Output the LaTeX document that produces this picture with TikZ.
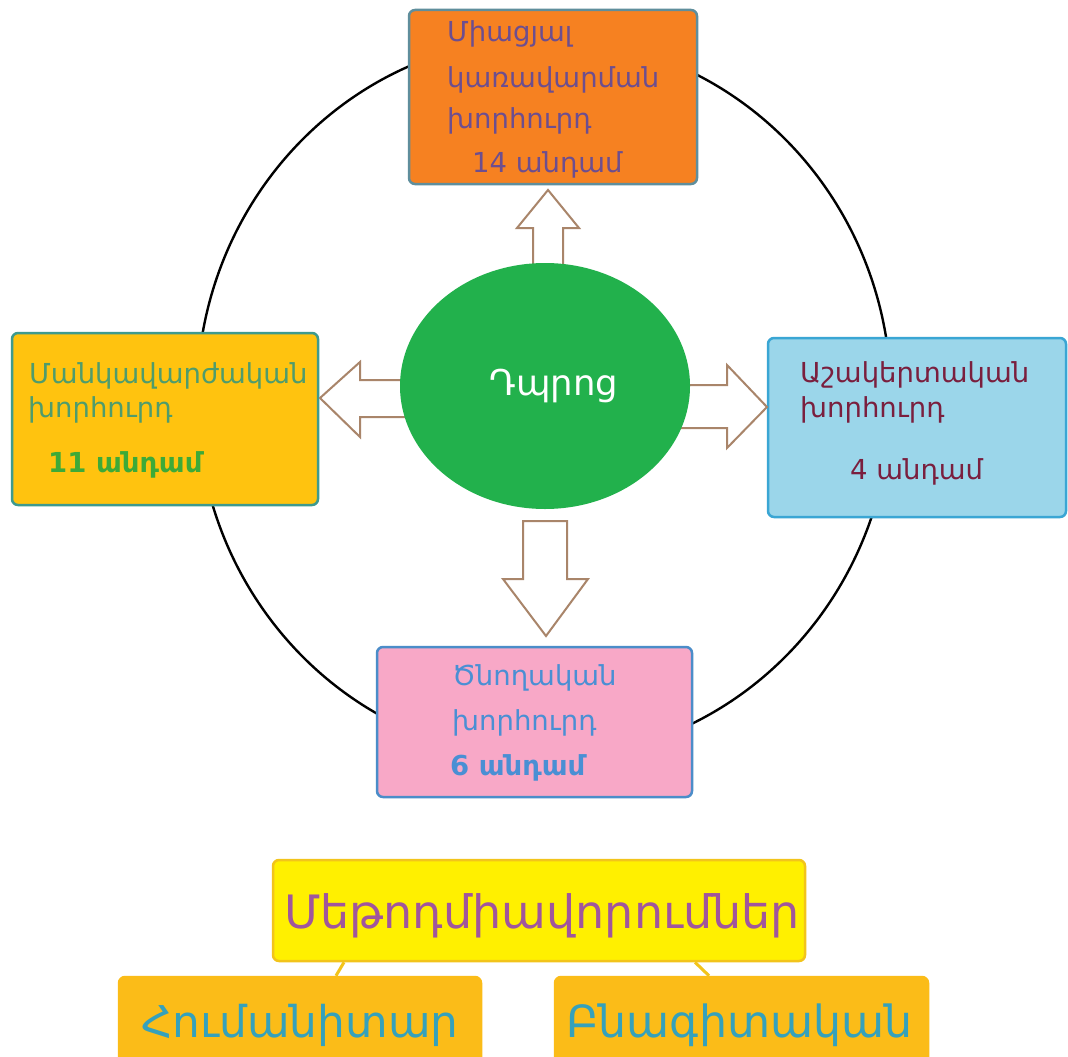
\documentclass[tikz,border=0pt]{standalone}
\usepackage{fontspec}
\setmainfont{DejaVu Sans}
\usetikzlibrary{shapes.geometric,calc}
\definecolor{orangeF}{HTML}{F68121}
\definecolor{orangeB}{HTML}{5F8E9C}
\definecolor{purpleT}{HTML}{6D4E8F}
\definecolor{goldF}{HTML}{FFC30F}
\definecolor{goldB}{HTML}{3E9A8E}
\definecolor{greenT}{HTML}{4F9C6C}
\definecolor{greenB}{HTML}{3DAA38}
\definecolor{blueF}{HTML}{9BD6EA}
\definecolor{blueB}{HTML}{3AA6D4}
\definecolor{maroonT}{HTML}{7A1F3E}
\definecolor{pinkF}{HTML}{F8A8C7}
\definecolor{pinkB}{HTML}{4B8DC9}
\definecolor{pinkT}{HTML}{4A8FD4}
\definecolor{schoolG}{HTML}{22B14C}
\definecolor{arrowB}{HTML}{A9856A}
\definecolor{yellowF}{HTML}{FFF000}
\definecolor{yellowB}{HTML}{F2C41B}
\definecolor{mauveT}{HTML}{A0569C}
\definecolor{subF}{HTML}{FBBC18}
\definecolor{tealT}{HTML}{35A1BB}
\tikzset{
  box/.style={rectangle, rounded corners=6pt, line width=2.5pt, inner sep=0pt},
  txt/.style={anchor=base west, inner sep=0pt, font=\fontsize{27.5}{32}\selectfont},
  bigtxt/.style={anchor=base west, inner sep=0pt, font=\fontsize{44.3}{50}\selectfont},
  blockarrow/.style={draw=arrowB, fill=white, line width=2pt, line join=miter},
  conn/.style={draw=yellowB, line width=3pt},
}
\begin{document}
\begin{tikzpicture}[x=1pt,y=-1pt]
\useasboundingbox (0,0) rectangle (1068,1057);
\clip (0,0) rectangle (1068,1057);
\fill[white] (0,0) rectangle (1068,1057);
% ring
\node[ellipse, draw=black, line width=2.4pt, minimum width=694pt, minimum height=720pt, inner sep=0pt] (ring) at (544,398) {};
% boxes
\node[box, fill=orangeF, draw=orangeB, minimum width=288pt, minimum height=174pt] (top) at (553,97) {};
\node[box, fill=goldF, draw=goldB, minimum width=306pt, minimum height=172pt] (left) at (165,419) {};
\node[box, fill=blueF, draw=blueB, minimum width=298pt, minimum height=179pt] (right) at (917,427.5) {};
\node[box, fill=pinkF, draw=pinkB, minimum width=315pt, minimum height=150pt] (bottom) at (534.5,722) {};
% block arrows
\draw[blockarrow] (533,275) -- (533,228) -- (517,228) -- (548,190) -- (579,228) -- (563,228) -- (563,275) -- cycle;
\draw[blockarrow] (415,380) -- (360,380) -- (360,362) -- (320,398) -- (360,437) -- (360,417) -- (415,417) -- cycle;
\draw[blockarrow] (675,385) -- (727,385) -- (727,365) -- (767,407) -- (727,448) -- (727,428) -- (675,428) -- cycle;
\draw[blockarrow] (523,521) -- (523,579) -- (503,579) -- (546,636) -- (588,579) -- (567,579) -- (567,521) -- cycle;
% school
\node[ellipse, fill=schoolG, minimum width=290pt, minimum height=246pt, inner sep=0pt] (school) at (545,386) {};
\node[anchor=center, inner sep=0pt, text=white, font=\fontsize{35.5}{40}\selectfont] (schoolT) at (554,386) {Դպրոց};
% top texts
\node[txt, text=purpleT] (t1) at (447,42) {Միացյալ};
\node[txt, text=purpleT] (t2) at (447,88) {կառավարման};
\node[txt, text=purpleT] (t3) at (447,128) {խորհուրդ};
\node[txt, text=purpleT] (t4) at (472,172) {14 անդամ};
% left texts
\node[txt, text=greenT] (l1) at (29,383) {Մանկավարժական};
\node[txt, text=greenT] (l2) at (28,417) {խորհուրդ};
\node[txt, text=greenB, font=\fontsize{27.5}{32}\selectfont\bfseries] (l3) at (48,472) {11 անդամ};
% right texts
\node[txt, text=maroonT] (r1) at (800,382) {Աշակերտական};
\node[txt, text=maroonT] (r2) at (800,417) {խորհուրդ};
\node[txt, text=maroonT] (r3) at (850,479) {4 անդամ};
% pink texts
\node[txt, text=pinkT] (p1) at (452,685) {Ծնողական};
\node[txt, text=pinkT] (p2) at (452,730) {խորհուրդ};
\node[txt, text=pinkT, font=\fontsize{27.5}{32}\selectfont\bfseries] (p3) at (450,775) {6 անդամ};
% methodological unions
\node[box, fill=yellowF, draw=yellowB, minimum width=532pt, minimum height=101pt] (meth) at (539,910.5) {};
\node[box, fill=subF, draw=subF, minimum width=362pt, minimum height=120pt] (hum) at (300,1037) {};
\node[box, fill=subF, draw=subF, minimum width=373pt, minimum height=120pt] (bnag) at (741.5,1037) {};
\draw[conn] ([xshift=-195pt]meth.south) -- ([xshift=36pt]hum.north);
\draw[conn] ([xshift=156pt]meth.south) -- ([xshift=-32.5pt]bnag.north);
\node[bigtxt, text=mauveT, font=\fontsize{46}{52}\selectfont] (methT) at (284,928) {Մեթոդմիավորումներ};
\node[bigtxt, text=tealT, font=\fontsize{43.8}{50}\selectfont] (humT) at (141,1037) {Հումանիտար};
\node[bigtxt, text=tealT] (bnagT) at (566,1037) {Բնագիտական};
\end{tikzpicture}
\end{document}
